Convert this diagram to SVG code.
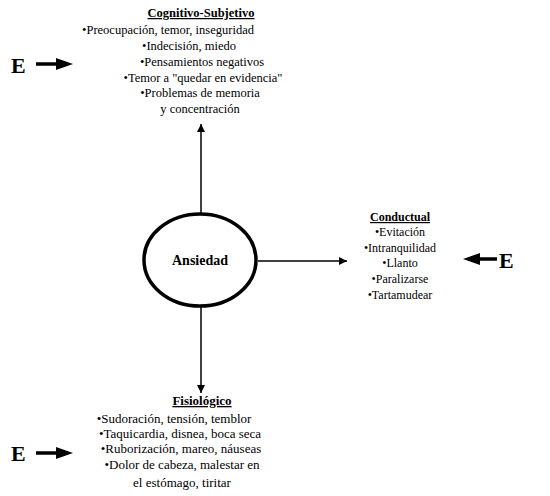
<svg xmlns="http://www.w3.org/2000/svg" width="550" height="496" viewBox="0 0 550 496">
<defs>
<style>
.t{font-family:"Liberation Serif","Times New Roman",serif;fill:#000;text-anchor:middle}
.h{font-weight:bold;text-decoration:underline}
.e{font-family:"Liberation Serif","Times New Roman",serif;font-weight:bold;font-size:22px;fill:#000}
.ln{stroke:#000;stroke-width:1.5;fill:none}
.ea{stroke:#000;stroke-width:3.5;fill:none}
</style>
<marker id="ah" viewBox="0 0 10 10" refX="10" refY="5" markerWidth="8" markerHeight="8" markerUnits="userSpaceOnUse" orient="auto"><path d="M0,0 L10,5 L0,10 Z" fill="#000"/></marker>
</defs>
<g id="connectors">
<line class="ln" x1="201" y1="213" x2="201" y2="124" marker-end="url(#ah)"/>
<line class="ln" x1="258" y1="261" x2="347" y2="261" marker-end="url(#ah)"/>
<line class="ln" x1="201" y1="307" x2="201" y2="393" marker-end="url(#ah)"/>
</g>
<g id="ansiedad">
<ellipse cx="200" cy="260" rx="56" ry="46" fill="#fff" stroke="#000" stroke-width="3.5"/>
<text class="t" x="200" y="265" font-size="14" font-weight="bold">Ansiedad</text>
</g>
<g id="cognitivo" class="t" font-size="12.5">
<text class="h" x="201" y="17">Cognitivo-Subjetivo</text>
<text x="168" y="34">•Preocupación, temor, inseguridad</text>
<text x="189" y="50">•Indecisión, miedo</text>
<text x="202" y="66">•Pensamientos negativos</text>
<text x="203" y="82">•Temor a "quedar en evidencia"</text>
<text x="200" y="97">•Problemas de memoria</text>
<text x="200" y="113">y concentración</text>
</g>
<g id="conductual" class="t" font-size="12">
<text class="h" x="400" y="221">Conductual</text>
<text x="400" y="236">•Evitación</text>
<text x="400" y="252">•Intranquilidad</text>
<text x="400" y="267">•Llanto</text>
<text x="400" y="283">•Paralizarse</text>
<text x="400" y="299">•Tartamudear</text>
</g>
<g id="fisiologico" class="t" font-size="13">
<text class="h" x="202" y="405">Fisiológico</text>
<text x="174" y="423">•Sudoración, tensión, temblor</text>
<text x="180" y="438">•Taquicardia, disnea, boca seca</text>
<text x="181" y="453">•Ruborización, mareo, náuseas</text>
<text x="182" y="469">•Dolor de cabeza, malestar en</text>
<text x="182" y="487">el estómago, tiritar</text>
</g>
<g id="e-top">
<text class="e" x="11" y="73">E</text>
<line class="ea" x1="36" y1="64" x2="58" y2="64"/>
<polygon points="56,58 73,64 56,70" fill="#000"/>
</g>
<g id="e-right">
<text class="e" x="499" y="268">E</text>
<line class="ea" x1="497" y1="259" x2="478" y2="259"/>
<polygon points="480,253 463,259 480,265" fill="#000"/>
</g>
<g id="e-bottom">
<text class="e" x="11" y="461">E</text>
<line class="ea" x1="36" y1="453" x2="58" y2="453"/>
<polygon points="56,447 73,453 56,459" fill="#000"/>
</g>
</svg>
